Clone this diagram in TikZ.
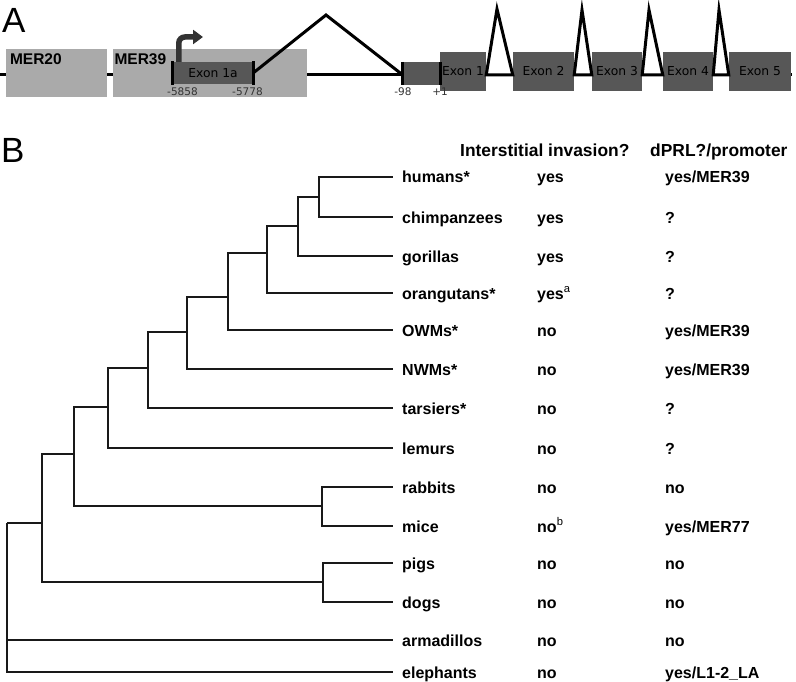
\documentclass[tikz,border=0pt]{standalone}
\usepackage{fontspec}
\setmainfont{Liberation Sans}
\newfontfamily\grandefont{DejaVu Sans}
\usetikzlibrary{arrows.meta}

\definecolor{merfill}{HTML}{AAAAAA}
\definecolor{exonfill}{HTML}{575757}

\tikzset{
	panel/.style={anchor=base west, inner sep=0pt, font=\fontsize{35}{40}\selectfont},
	mer/.style={fill=merfill, inner sep=0pt},
	merlabel/.style={anchor=north west, inner sep=0pt, font=\fontsize{15.5}{18}\selectfont\bfseries},
	exon/.style={fill=exonfill, inner sep=0pt, text=black, font=\grandefont\fontsize{12.3}{14}\selectfont},
	bar/.style={line width=3pt},
	intron/.style={line width=3pt, line join=miter},
	poslabel/.style={inner sep=0pt, text=black!80, font=\grandefont\fontsize{10.5}{12}\selectfont},
	branch/.style={line width=1.6pt, black!90},
	taxon/.style={anchor=base west, inner sep=0pt, font=\fontsize{16}{19}\selectfont\bfseries},
	colhead/.style={anchor=base west, inner sep=0pt, font=\fontsize{17.4}{20}\selectfont\bfseries}
}

\begin{document}
\begin{tikzpicture}[x=1pt, y=-1pt]
	\useasboundingbox (0,0) rectangle (796,682);

	% A: gene structure
	\node [panel] (A) at (2,33) {A};
	\coordinate (gene) at (0,75);
	\draw [line width=3pt] (gene) -- (792,75);
	\node [mer, minimum width=101pt, minimum height=48pt] (mer20) at (56.5,73) {};
	\node [mer, minimum width=194pt, minimum height=48pt] (mer39) at (210,73) {};
	\node [merlabel] at ([xshift=4pt, yshift=-4.5pt]mer20.north west) {MER20};
	\node [merlabel] at ([xshift=1.5pt, yshift=-4.5pt]mer39.north west) {MER39};

	\node [exon, minimum width=80pt, minimum height=22pt] (exon1a) at (213,73) {Exon 1a};
	\draw [bar] ([yshift=0.5pt]exon1a.north west) -- ([yshift=-1pt]exon1a.south west);
	\draw [bar] ([yshift=0.5pt]exon1a.north east) -- ([yshift=-1pt]exon1a.south east);
	\draw [line width=5.5pt, black!80, rounded corners=6pt, -{Triangle[length=10pt, width=14pt]}]
		([xshift=6pt]exon1a.north west) |- (203,37);

	\node [exon, minimum width=37pt, minimum height=23pt] (utr) at (421.5,73.5) {};
	\foreach \n/\x/\w/\txt in {exon1/463/46/Exon 1, exon2/543.5/61/Exon 2, exon3/617/50/Exon 3,
		exon4/688/50/Exon 4, exon5/760/62/Exon 5}
		\node [exon, minimum width=\w pt, minimum height=39pt] (\n) at (\x,71.5) {\txt};
	\draw [bar] (utr.north west) -- (utr.south west);
	\draw [bar] (utr.north east) -- (utr.south east);

	\node [poslabel] (p5858) at (182.5,92) {-5858};
	\node [poslabel] (p5778) at (247.5,92) {-5778};
	\node [poslabel] (p98) at (403,92) {-98};
	\node [poslabel] (p1) at (440,92) {+1};

	% introns
	\draw [intron] (exon1a.east) -- (326,15) -- (utr.west |- gene);
	\draw [intron, fill=white] (exon1.east |- gene) -- (497,9) -- (exon2.west |- gene) -- cycle;
	\draw [intron, fill=white] (exon2.east |- gene) -- (582,10) -- (exon3.west |- gene) -- cycle;
	\draw [intron, fill=white] (exon3.east |- gene) -- (649,10) -- (exon4.west |- gene) -- cycle;
	\draw [intron, fill=white] (exon4.east |- gene) -- (719,10) -- (exon5.west |- gene) -- cycle;

	% B: tree and table
	\node [panel] (B) at (1,163) {B};
	\node [colhead] (invasion) at (460,157) {Interstitial invasion?};
	\node [colhead] (promoter) at (650,157) {dPRL?/promoter};

	\foreach \n/\y/\taxname/\inv/\prom in {
		humans/177/humans*/yes/{yes/MER39},
		chimp/217/chimpanzees/yes/?,
		gorilla/256/gorillas/yes/?,
		orang/293/orangutans*/yes\textsuperscript{\mdseries a}/?,
		owm/330/OWMs*/no/{yes/MER39},
		nwm/369/NWMs*/no/{yes/MER39},
		tarsier/408/tarsiers*/no/?,
		lemur/448/lemurs/no/?,
		rabbit/487/rabbits/no/no,
		mouse/526/mice/no\textsuperscript{\mdseries b}/{yes/MER77},
		pig/563/pigs/no/no,
		dog/602/dogs/no/no,
		armadillo/640/armadillos/no/no,
		elephant/672/elephants/no/{yes/L1-2\_LA}}
	{
		\coordinate (\n) at (393,\y);
		\node [taxon] (\n-name) at (402,\y+6) {\taxname};
		\node [taxon] (\n-inv) at (537,\y+6) {\inv};
		\node [taxon] (\n-dprl) at (665,\y+6) {\prom};
	}

	\coordinate (hc) at (319,197);
	\coordinate (hcg) at (298,226);
	\coordinate (ape) at (267,253);
	\coordinate (catarr) at (228,297);
	\coordinate (anthr) at (187,332);
	\coordinate (haplo) at (148,368);
	\coordinate (prim) at (108,407);
	\coordinate (glires) at (322,506);
	\coordinate (euarch) at (74,454);
	\coordinate (laur) at (323,582);
	\coordinate (boreo) at (42,523);
	\coordinate (root) at (7,523);

	\draw [branch] (hc) |- (humans) (hc) |- (chimp);
	\draw [branch] (hcg) |- (hc) (hcg) |- (gorilla);
	\draw [branch] (ape) |- (hcg) (ape) |- (orang);
	\draw [branch] (catarr) |- (ape) (catarr) |- (owm);
	\draw [branch] (anthr) |- (catarr) (anthr) |- (nwm);
	\draw [branch] (haplo) |- (anthr) (haplo) |- (tarsier);
	\draw [branch] (prim) |- (haplo) (prim) |- (lemur);
	\draw [branch] (glires) |- (rabbit) (glires) |- (mouse);
	\draw [branch] (euarch) |- (prim) (euarch) |- (glires);
	\draw [branch] (laur) |- (pig) (laur) |- (dog);
	\draw [branch] (boreo) |- (euarch) (boreo) |- (laur);
	\draw [branch] (root) |- (boreo) (root) |- (armadillo) (root) |- (elephant);
\end{tikzpicture}
\end{document}
